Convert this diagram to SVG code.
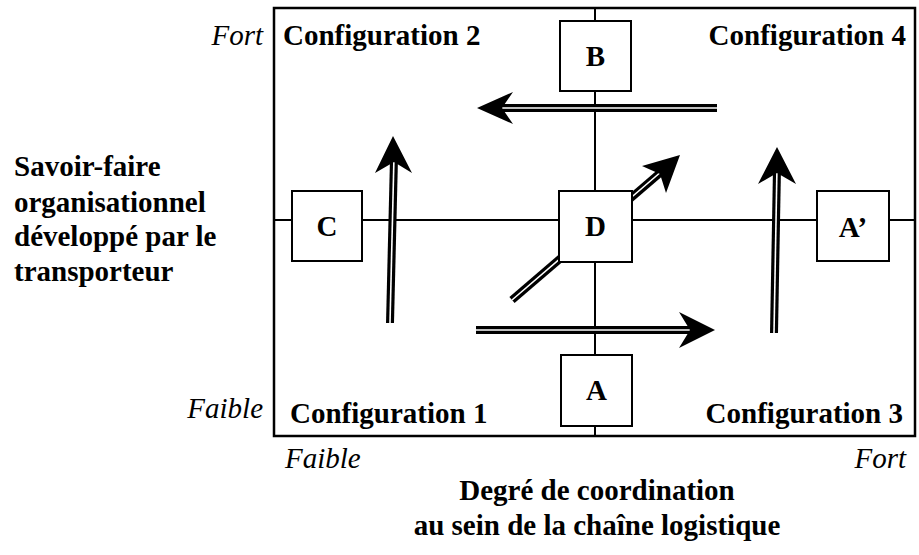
<svg xmlns="http://www.w3.org/2000/svg" width="919" height="555" viewBox="0 0 919 555">
<style>
text{font-family:"Liberation Serif","Times New Roman",serif;font-size:29px;fill:#000}
.b{font-weight:bold}
.i{font-style:italic}
.m{text-anchor:middle}
.e{text-anchor:end}
.ax{stroke:#000;stroke-width:2;fill:none}
.box{fill:#fff;stroke:#000;stroke-width:2}
.dl{stroke:#000;stroke-width:8;fill:none}
.dw{stroke:#fff;stroke-width:1.6;fill:none}
.hd{fill:#000;stroke:none}
</style>
<rect x="274" y="8" width="641" height="428" fill="#fff" stroke="#000" stroke-width="2.5"/>
<g id="axes">
<line class="ax" x1="595" y1="8" x2="595" y2="436"/>
<line class="ax" x1="274" y1="220" x2="915" y2="220"/>
</g>
<g id="connectors">
<line class="dl" x1="717" y1="108" x2="500" y2="108"/>
<line class="dw" x1="717" y1="108" x2="498" y2="108"/>
<polygon class="hd" points="477,108 513,92 502,108 513,124"/>
<line class="dl" x1="476" y1="330" x2="694" y2="330"/>
<line class="dw" x1="476" y1="330" x2="696" y2="330"/>
<polygon class="hd" points="715,330 679,312 690,330 679,348"/>
<line class="dl" x1="390" y1="323" x2="394" y2="158"/>
<line class="dw" x1="390" y1="323" x2="394" y2="156"/>
<polygon class="hd" points="393,136 412,173 394,162 375,173"/>
<line class="dl" x1="774" y1="333" x2="777" y2="168"/>
<line class="dw" x1="774" y1="333" x2="777" y2="166"/>
<polygon class="hd" points="777,147 796,184 777,173 758,184"/>
<line class="dl" x1="512" y1="300" x2="660" y2="173"/>
<line class="dw" x1="512" y1="300" x2="662" y2="171"/>
<polygon class="hd" points="680,155 666,193 660,174 642,166"/>
</g>
<g id="node-B"><rect class="box" x="560" y="21" width="71" height="70"/><text class="b m" x="595.5" y="66">B</text></g>
<g id="node-A"><rect class="box" x="561" y="355" width="71" height="71"/><text class="b m" x="596.5" y="400">A</text></g>
<g id="node-C"><rect class="box" x="292" y="191" width="70" height="70"/><text class="b m" x="327" y="236">C</text></g>
<g id="node-D"><rect class="box" x="559" y="191" width="73" height="71"/><text class="b m" x="595.5" y="236">D</text></g>
<g id="node-A2"><rect class="box" x="817" y="191" width="72" height="70"/><text class="b m" x="853" y="237">A’</text></g>
<g id="labels">
<text class="i e" x="263" y="45">Fort</text>
<text class="b" x="283" y="45">Configuration 2</text>
<text class="b e" x="906" y="45">Configuration 4</text>
<text class="i e" x="263" y="418">Faible</text>
<text class="b" x="290" y="423">Configuration 1</text>
<text class="b e" x="903" y="423">Configuration 3</text>
<text class="i" x="285" y="468">Faible</text>
<text class="i e" x="906" y="468">Fort</text>
<text class="b m" x="597" y="500">Degré de coordination</text>
<text class="b m" x="597" y="535">au sein de la chaîne logistique</text>
<text class="b" x="14" y="176">Savoir-faire</text>
<text class="b" x="14" y="212">organisationnel</text>
<text class="b" x="14" y="246">développé par le</text>
<text class="b" x="14" y="281">transporteur</text>
</g>
</svg>
